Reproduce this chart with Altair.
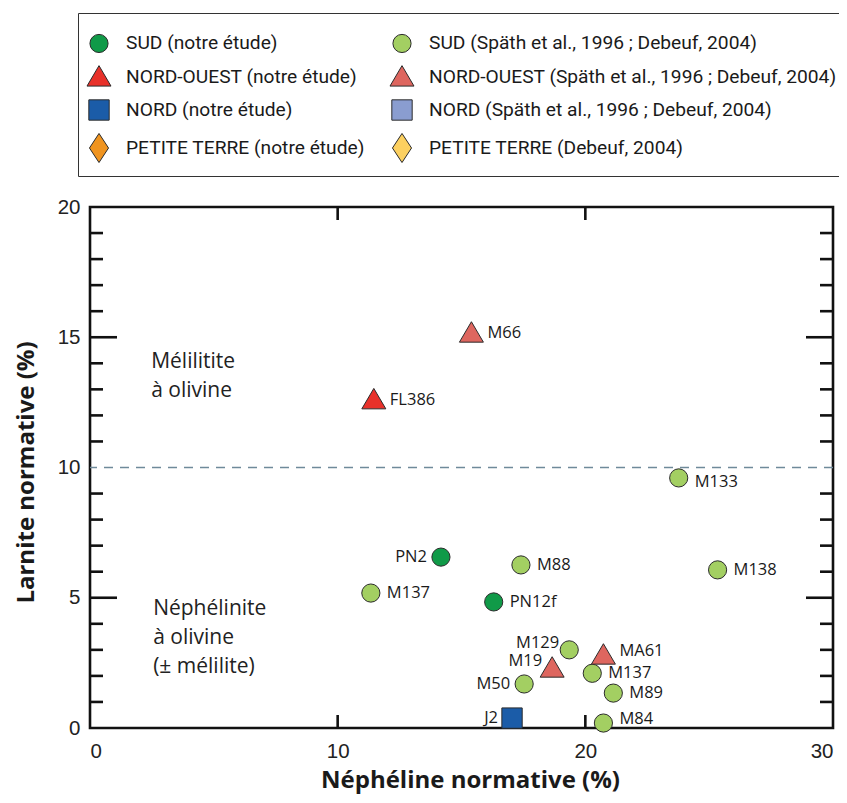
import altair as alt
import pandas as pd

# ---- legend groups (legend fills column by column) ----
groups = [
    "SUD (notre étude)",
    "NORD-OUEST (notre étude)",
    "NORD (notre étude)",
    "PETITE TERRE (notre étude)",
    "SUD (Späth et al., 1996 ; Debeuf, 2004)",
    "NORD-OUEST (Späth et al., 1996 ; Debeuf, 2004)",
    "NORD (Späth et al., 1996 ; Debeuf, 2004)",
    "PETITE TERRE (Debeuf, 2004)",
]
group_colors = ["#109a48", "#e8312a", "#1b5ca8", "#f0941f",
                "#a3cf62", "#de665f", "#8a9dd0", "#fcd060"]

CIRCLE = "circle"
TRIANGLE = "M0,-1.25L1.32,1L-1.32,1Z"
SQUARE = "M-1.12,-1.12L1.12,-1.12L1.12,1.12L-1.12,1.12Z"
DIAMOND = "M0,-1.6L1.05,0L0,1.6L-1.05,0Z"
group_shapes = [CIRCLE, TRIANGLE, SQUARE, DIAMOND, CIRCLE, TRIANGLE, SQUARE, DIAMOND]
outline = "#2b2b2b"

# ---- samples ----
names = ["PN2", "PN12f",
         "M137", "M88", "M138", "M133", "M129", "M137", "M50", "M89", "M84",
         "FL386",
         "M66", "M19", "MA61",
         "J2"]
nepheline = [14.17, 16.30,
             11.34, 17.40, 25.34, 23.77, 19.35, 20.28, 17.53, 21.13, 20.73,
             11.46,
             15.40, 18.66, 20.73,
             17.04]
larnite = [6.56, 4.84,
           5.18, 6.26, 6.07, 9.60, 3.00, 2.10, 1.69, 1.34, 0.19,
           12.60,
           15.16, 2.30, 2.80,
           0.38]
group_idx = [0, 0,
             4, 4, 4, 4, 4, 4, 4, 4, 4,
             1,
             5, 5, 5,
             2]
label_side = ["left", "right",
              "right", "right", "right", "rightdown", "leftup", "right", "left", "right", "rightup",
              "right",
              "right", "leftup", "rightup",
              "left"]

y_minor = [1, 2, 3, 4, 6, 7, 8, 9, 11, 12, 13, 14, 16, 17, 18, 19]
y_major = [5, 15]
x_major = [10, 20]

boundary = [10]
regions = ["Mélilitite\nà olivine", "Néphélinite\nà olivine\n(± mélilite)"]
region_x = [2.47, 2.55]
region_y = [13.82, 4.34]

W, H = 743, 521

df = pd.DataFrame({
    "name": names,
    "neph": nepheline,
    "larn": larnite,
    "groupe": [groups[i] for i in group_idx],
    "side": label_side,
})
df_ymin = pd.DataFrame({"v": y_minor})
df_ymaj = pd.DataFrame({"v": y_major})
df_xmaj = pd.DataFrame({"v": x_major})
df_reg = pd.DataFrame({"t": regions, "x": region_x, "y": region_y})

xs = alt.Scale(domain=[0, 30], nice=False, zero=False)
ys = alt.Scale(domain=[0, 20], nice=False, zero=False)

legend = alt.Legend(
    title=" ", titleFontSize=1, titlePadding=8,
    orient="none", legendX=-12, legendY=-194,
    columns=2, direction="vertical",
    strokeColor="#333", padding=11,
    labelFont="Roboto", labelFontSize=19.2, labelColor="#1a1a1a",
    labelLimit=1000, labelOffset=17,
    symbolSize=330, symbolStrokeWidth=1, symbolOpacity=1,
    rowPadding=8, columnPadding=23)

base = alt.Chart(df)

points = base.mark_point(filled=True, opacity=1, size=330, strokeWidth=1).encode(
    x=alt.X("neph:Q", scale=xs,
            title="Néphéline normative (%)",
            axis=alt.Axis(values=[0, 10, 20, 30], grid=False, ticks=False, domain=False,
                          labelFont="Liberation Sans", labelFontSize=20.5,
                          labelColor="#222", labelPadding=13,
                          titleFont="Open Sans", titleFontWeight="bold",
                          titleFontSize=24, titleColor="#1a1a1a",
                          titleX=380, titleY=52, titleBaseline="middle")),
    y=alt.Y("larn:Q", scale=ys,
            title="Larnite normative (%)",
            axis=alt.Axis(values=[0, 5, 10, 15, 20], grid=False, ticks=False, domain=False,
                          labelFont="Liberation Sans", labelFontSize=20.5,
                          labelColor="#222", labelPadding=10,
                          titleFont="Open Sans", titleFontWeight="bold",
                          titleFontSize=24, titleColor="#1a1a1a",
                          titleX=-64, titleY=265, titleBaseline="middle",
                          titleAlign="center", titleAngle=-90)),
    color=alt.Color("groupe:N", scale=alt.Scale(domain=groups, range=group_colors),
                    legend=legend),
    shape=alt.Shape("groupe:N", scale=alt.Scale(domain=groups, range=group_shapes),
                    legend=legend),
    stroke=alt.Stroke("groupe:N", scale=alt.Scale(domain=groups, range=[outline] * 8),
                      legend=legend),
)

label_font = dict(font="Open Sans", fontSize=16.5, color="#1a1a1a")


def labels(side, align, dx, dy):
    return base.transform_filter(alt.datum.side == side).mark_text(
        align=align, baseline="middle", dx=dx, dy=dy, **label_font).encode(
        x=alt.X("neph:Q", scale=xs), y=alt.Y("larn:Q", scale=ys), text="name:N")


lab_right = labels("right", "left", 16, 0)
lab_rightup = labels("rightup", "left", 16, -4)
lab_rightdown = labels("rightdown", "left", 16, 4)
lab_left = labels("left", "right", -14, 0)
lab_leftup = labels("leftup", "right", -10, -7)

dash = alt.Chart(pd.DataFrame({"v": boundary})).mark_rule(
    color="#6f8a9a", strokeWidth=1.6, strokeDash=[9, 7]).encode(
    y=alt.Y("v:Q", scale=ys))

region_text = alt.Chart(df_reg).mark_text(
    align="left", baseline="alphabetic", font="Open Sans", fontSize=21,
    lineHeight=29, color="#222", lineBreak="\n").encode(
    x=alt.X("x:Q", scale=xs), y=alt.Y("y:Q", scale=ys), text="t:N")

tick_style = dict(color="#111", strokeWidth=2.6)
t_left_min = alt.Chart(df_ymin).mark_rule(**tick_style).encode(
    y=alt.Y("v:Q", scale=ys), x=alt.value(0), x2=alt.value(13))
t_left_maj = alt.Chart(df_ymaj).mark_rule(**tick_style).encode(
    y=alt.Y("v:Q", scale=ys), x=alt.value(0), x2=alt.value(27))
t_right_min = alt.Chart(df_ymin).mark_rule(**tick_style).encode(
    y=alt.Y("v:Q", scale=ys), x=alt.value(W - 13), x2=alt.value(W))
t_right_maj = alt.Chart(df_ymaj).mark_rule(**tick_style).encode(
    y=alt.Y("v:Q", scale=ys), x=alt.value(W - 27), x2=alt.value(W))
t_bot = alt.Chart(df_xmaj).mark_rule(**tick_style).encode(
    x=alt.X("v:Q", scale=xs), y=alt.value(H - 13), y2=alt.value(H))
t_top = alt.Chart(df_xmaj).mark_rule(**tick_style).encode(
    x=alt.X("v:Q", scale=xs), y=alt.value(0), y2=alt.value(13))

chart = alt.layer(
    dash, region_text, t_left_min, t_left_maj, t_right_min, t_right_maj, t_bot, t_top,
    points, lab_right, lab_rightup, lab_rightdown, lab_left, lab_leftup,
).properties(
    width=W, height=H,
    autosize=alt.AutoSizeParams(type="none"),
    padding={"left": 82, "top": 199, "right": 6, "bottom": 67},
    background="white",
).configure_view(
    stroke="#111", strokeWidth=2.6, fill="white"
)

chart.save("out.html", embed_options={"renderer": "svg", "actions": False})
